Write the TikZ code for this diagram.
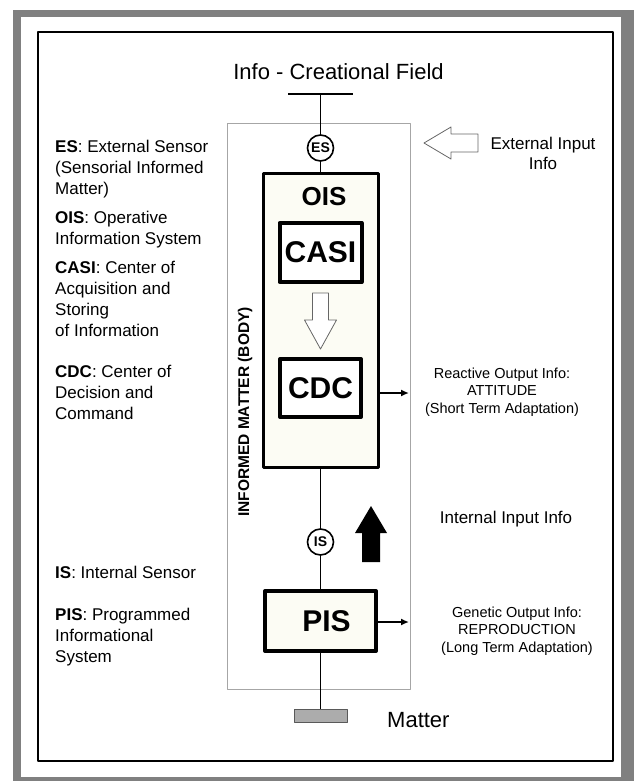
\documentclass[tikz,border=0pt]{standalone}
\usepackage{fontspec}
\setmainfont{Liberation Sans}
\usetikzlibrary{arrows.meta}
\definecolor{cream}{RGB}{252,252,244}
\begin{document}
\begin{tikzpicture}[x=1pt, y=-1pt, line join=round, >={Latex[length=8pt,width=7pt]},
	box/.style={draw, fill=cream, inner sep=0pt, font=\bfseries\fontsize{30}{32}\selectfont},
	sensor/.style={draw, circle, line width=1.6pt, fill=white, minimum size=26pt, inner sep=0pt, font=\bfseries\fontsize{14}{14}\selectfont},
	lgd/.style={anchor=base west, align=left, inner sep=0pt, font=\fontsize{17}{20.7}\selectfont},
	info/.style={align=center, inner sep=0pt, font=\fontsize{14.5}{17.5}\selectfont},
	wire/.style={line width=1.6pt}]
	\useasboundingbox (0,0) rectangle (634,781);
	% frame
	\fill[gray] (13,10) rectangle (634,781);
	\fill[white] (21,17) rectangle (621,777);
	\draw[line width=1.2pt] (38,32) rectangle (613,761);
	% informed matter (body)
	\draw[gray!70, line width=0.8pt] (227,123) rectangle (410,689);
	\node[rotate=90, font=\bfseries\fontsize{15.5}{18}\selectfont] (body) at (245,412) {INFORMED MATTER (BODY)};
	% field and sensors
	\node[font=\fontsize{22}{26}\selectfont] (field) at (338.5,72) {Info - Creational Field};
	\coordinate (top) at (320.5,94);
	\draw[wire] (288,94) -- (353,94);
	\node[sensor] (es) at (320.5,148) {ES};
	\node[box, line width=3pt, minimum width=115pt, minimum height=294pt] (ois) at (320.5,320.5) {};
	\node[font=\bfseries\fontsize{26}{28}\selectfont] (oislbl) at (324,197) {OIS};
	\node[box, fill=white, line width=4pt, minimum width=82pt, minimum height=59pt] (casi) at (320.5,252.5) {CASI};
	\node[box, fill=white, line width=4pt, minimum width=81pt, minimum height=58pt] (cdc) at (320.5,388) {CDC};
	\node[sensor] (is) at (320.5,542) {IS};
	\node[box, line width=4pt, minimum width=111pt, minimum height=60pt] (pis) at (320.5,621) {\hspace{12pt}PIS};
	\node[draw=gray!70!black, fill=gray!65, line width=0.6pt, minimum width=53pt, minimum height=13pt, inner sep=0pt] (bar) at (320.5,715.5) {};
	\node[anchor=west, inner sep=0pt, font=\fontsize{22}{26}\selectfont] (mattertxt) at (387,720) {Matter};
	% main line
	\draw[wire] (top) -- (es);
	\draw[wire] (es) -- (ois);
	\draw[wire] (ois) -- (is);
	\draw[wire] (is) -- (pis);
	\draw[wire] (pis) -- (bar);
	% hollow arrows
	\draw[gray!80!black, fill=white, line width=0.8pt] (312.5,293) -- (328.5,293) -- (328.5,320) -- (336.5,320) -- (320.5,349) -- (304.5,320) -- (312.5,320) -- cycle;
	\draw[gray!80!black, fill=white, line width=0.8pt] (478,134) -- (451,134) -- (451,127) -- (424,143) -- (451,159) -- (451,152) -- (478,152) -- cycle;
	\fill (362,562) -- (380,562) -- (380,533) -- (387,533) -- (371,506) -- (355,533) -- (362,533) -- cycle;
	% outputs
	\coordinate (reac) at (409,393);
	\coordinate (gen) at (409,622);
	\draw[wire, ->] (reac -| ois.east) -- (reac);
	\draw[wire, ->] (gen -| pis.east) -- (gen);
	\node[info, font=\fontsize{17}{20}\selectfont] (extin) at (543,153) {External Input\\Info};
	\node[info, font=\fontsize{17}{20}\selectfont] (intin) at (506,519) {Internal Input Info};
	\node[info] (reactive) at (502,392) {Reactive Output Info:\\ATTITUDE\\(Short Term Adaptation)};
	\node[info] (genetic) at (517,631) {Genetic Output Info:\\REPRODUCTION\\(Long Term Adaptation)};
	% legend (anchored on the last line)
	\node[lgd] (les) at (55,194) {\textbf{ES}: External Sensor\\(Sensorial Informed\\Matter)};
	\node[lgd] (lois) at (55,244) {\textbf{OIS}: Operative\\Information System};
	\node[lgd] (lcasi) at (55,336) {\textbf{CASI}: Center of\\Acquisition and\\Storing\\of Information};
	\node[lgd] (lcdc) at (55,419) {\textbf{CDC}: Center of\\Decision and\\Command};
	\node[lgd] (lis) at (55,578) {\textbf{IS}: Internal Sensor};
	\node[lgd] (lpis) at (55,662) {\textbf{PIS}: Programmed\\Informational\\System};
\end{tikzpicture}
\end{document}
